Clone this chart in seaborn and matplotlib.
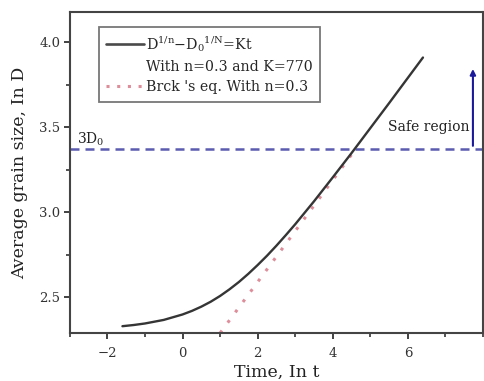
import matplotlib
matplotlib.use("Agg")
import matplotlib.pyplot as plt
import seaborn as sns
import pandas as pd
from matplotlib.lines import Line2D
from matplotlib.ticker import MultipleLocator

# ---- data ----
curve_t = [-1.6, -1.3, -1.0, -0.5, 0.0, 0.25, 0.5, 0.75, 1.0, 1.25, 1.5, 1.75, 2.0,
           2.25, 2.5, 2.75, 3.0, 3.5, 4.0, 4.5, 5.0, 5.5, 6.0, 6.4]
curve_d = [2.330, 2.337, 2.346, 2.367, 2.399, 2.420, 2.445, 2.474, 2.508, 2.547, 2.590,
           2.638, 2.690, 2.745, 2.804, 2.866, 2.930, 3.065, 3.206, 3.349, 3.496, 3.643,
           3.792, 3.911]
burke_t = [1.0, 4.5]
burke_d = [2.29, 3.34]
limit_d = 3.375           # 3D0 level
arrow_t = 7.73
arrow_top = 3.86
xticks = [-2, 0, 2, 4, 6]
xtick_labels = ["\u22122", "0", "2", "4", "6"]
yticks = [2.5, 3.0, 3.5, 4.0]
ytick_labels = ["2.5", "3.0", "3.5", "4.0"]

sns.set_theme(style="ticks")
plt.rcParams['font.family'] = ['DejaVu Serif']
plt.rcParams['mathtext.default'] = 'regular'
plt.rcParams['mathtext.fontset'] = 'dejavuserif'

fig = plt.figure(figsize=(4.85, 3.81), dpi=100)
ax = fig.add_axes([0.144, 0.126, 0.852, 0.843])

df_c = pd.DataFrame({"t": curve_t, "D": curve_d})
df_b = pd.DataFrame({"t": burke_t, "D": burke_d})

sns.lineplot(data=df_b, x="t", y="D", ax=ax, color="#dd8e9a", linestyle=(0, (1, 3.2)),
             linewidth=2.2, zorder=2)
sns.lineplot(data=df_c, x="t", y="D", ax=ax, color="#353535", linewidth=1.7, zorder=3)
ax.axhline(limit_d, color="#5b5bb0", linestyle=(0, (3.6, 2.4)), linewidth=1.8, zorder=1)

ax.annotate("", xy=(arrow_t, arrow_top), xytext=(arrow_t, limit_d),
            arrowprops=dict(arrowstyle="-|>", color="#1a1a9a", lw=1.5, mutation_scale=8))
ax.text(7.63, 3.5, "Safe region", ha="right", va="center", fontsize=10, color="#222222")
ax.text(-2.8, 3.43, "3D$_0$", ha="left", va="center", fontsize=10, color="#222222")

ax.set_xlim(-3, 8)
ax.set_ylim(2.29, 4.18)
ax.set_xticks(xticks)
ax.set_xticklabels(xtick_labels)
ax.set_yticks(yticks)
ax.set_yticklabels(ytick_labels)
ax.xaxis.set_minor_locator(MultipleLocator(1))
ax.yaxis.set_minor_locator(MultipleLocator(0.25))
ax.tick_params(axis="both", which="major", direction="out", length=4, width=1.3,
               labelsize=9.5, colors="#333333")
ax.tick_params(axis="y", which="major", pad=3)
ax.tick_params(axis="x", which="major", pad=6)
ax.tick_params(axis="both", which="minor", direction="out", length=3, width=1.2, colors="#333333")
for s in ax.spines.values():
    s.set_visible(True)
    s.set_color("#444444")
    s.set_linewidth(1.5)

ax.set_xlabel("Time, In t", fontsize=12.5, color="#222222", labelpad=3)
ax.set_ylabel("Average grain size, In D", fontsize=12.5, color="#222222", labelpad=8)

handles = [
    Line2D([], [], color="#4a4a4a", lw=1.9),
    Line2D([], [], color="none"),
    Line2D([], [], color="#dd8e9a", lw=2.2, linestyle=(0, (1, 2.5))),
]
labels = ["D$^{1/n}$\u2212D$_0$$^{1/N}$=Kt", "With n=0.3 and K=770", "Brck 's eq. With n=0.3"]
leg = ax.legend(handles, labels, loc="upper left", bbox_to_anchor=(0.070, 0.953),
                fontsize=10.2, frameon=True, fancybox=False, handlelength=2.7,
                handletextpad=0.15, borderpad=0.5, labelspacing=0.45, borderaxespad=0)
leg.get_frame().set_edgecolor("#555555")
leg.get_frame().set_linewidth(1.3)

fig.savefig("out.png", dpi=100)
